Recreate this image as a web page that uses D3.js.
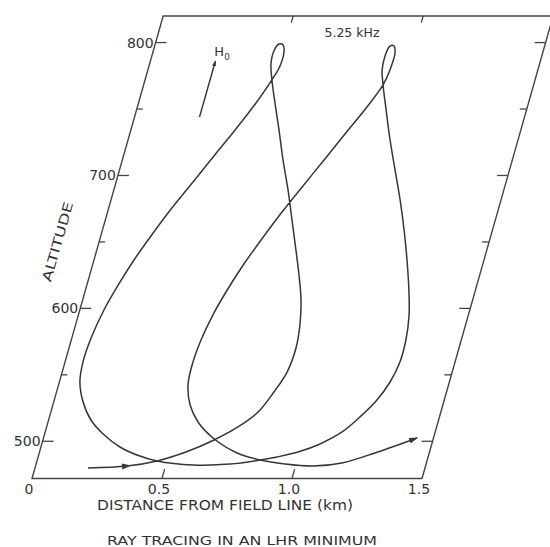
<!DOCTYPE html>
<html><head><meta charset="utf-8">
<script src="https://cdn.jsdelivr.net/npm/d3@7/dist/d3.min.js"></script>
<style>html,body{margin:0;padding:0;background:#fff;overflow:hidden}</style>
</head><body>
<svg id="chart" width="550" height="547"></svg>
<script>
// ---- data (distance from field line in km, altitude in km) ----
const rayDistance = [0.204,0.352,0.462,0.563,0.658,0.736,0.797,0.836,0.865,0.873,0.863,0.840,0.805,0.766,0.718,0.670,0.618,0.570,0.525,0.488,
  0.467,0.464,0.476,0.493,0.504,0.504,0.488,
  0.452,0.401,0.348,0.296,0.243,0.193,0.154,0.122,0.093,0.074,0.069,0.079,0.113,0.163,0.225,0.304,0.378,0.462,
  0.605,0.746,0.857,
  0.919,0.994,1.070,1.142,1.194,1.239,1.272,1.288,1.287,1.272,1.244,1.204,1.160,1.112,1.060,1.008,0.960,0.921,
  0.901,0.897,0.905,0.921,0.932,0.931,0.921,
  0.881,0.828,0.776,0.723,0.671,0.621,0.581,0.549,0.519,0.499,0.492,0.498,0.528,0.577,0.652,0.761,0.857,
  0.957,1.067,1.175,1.291,1.437];
const rayAltitude = [479.9,481.4,485.2,491.9,501.0,510.8,522.0,537.1,552.1,570.2,587.5,606.3,625.1,643.9,666.5,689.1,711.7,734.2,754.5,771.9,
  783.9,793.7,798.9,798.2,792.9,782.4,771.9,
  754.5,734.2,714.7,695.1,675.5,654.5,636.4,618.4,598.8,577.7,559.7,544.6,529.6,516.0,505.5,495.7,489.7,485.2,
  482.2,482.9,485.9,
  488.2,491.9,498.0,507.0,518.3,530.3,544.6,559.7,576.2,595.0,613.8,636.4,659.0,681.6,704.1,726.7,749.3,768.1,
  779.4,789.9,797.4,797.4,792.2,779.4,768.1,
  750.8,731.2,711.7,692.1,672.5,651.5,633.4,616.1,596.5,576.2,557.4,542.4,527.3,514.5,502.5,491.2,485.9,
  482.9,481.4,483.7,491.2,502.5];
const altMajorTicks = [500, 600, 700, 800];
const altMinorTicks = [550, 650, 750];
const altTickLabels = ["500", "600", "700", "800"];
const distTicks = [0, 0.5, 1.0, 1.5];
const distInnerTicks = [0.5, 1.0];
const distTickLabels = ["0", "0.5", "1.0", "1.5"];
const fieldArrowDistance = [0.25, 0.25];
const fieldArrowAltitude = [744, 786];
const frequencyLabel = "5.25 kHz";
const xTitle = "DISTANCE FROM FIELD LINE (km)";
const yTitle = "ALTITUDE";
const caption = "RAY TRACING IN AN LHR MINIMUM";

// ---- scales ----
const distDomain = [0, 1.5], altDomain = [472, 820];
const x = d3.scaleLinear().domain(distDomain).range([32, 422]);
const y = d3.scaleLinear().domain(altDomain).range([478.5, 16]);
const skew = 0.2836; // frame is sheared along the field-line direction
const P = (d, h) => [x(d) + skew * (y(altDomain[0]) - y(h)), y(h)];

const svg = d3.select("#chart");
const ink = "#363636";
const font = "'DejaVu Sans', sans-serif";

const defs = svg.append("defs");
defs.append("marker").attr("id", "arr").attr("markerUnits", "userSpaceOnUse")
  .attr("markerWidth", 12).attr("markerHeight", 10).attr("refX", 8).attr("refY", 5)
  .attr("orient", "auto")
  .append("path").attr("d", "M0,2 L9,5 L0,8 Z").attr("fill", ink);
defs.append("marker").attr("id", "arrS").attr("markerUnits", "userSpaceOnUse")
  .attr("markerWidth", 8).attr("markerHeight", 8).attr("refX", 5).attr("refY", 4)
  .attr("orient", "auto")
  .append("path").attr("d", "M0,2 L6,4 L0,6 Z").attr("fill", ink);

// ---- frame ----
const corners = [[distDomain[0], altDomain[0]], [distDomain[1], altDomain[0]], [distDomain[1], altDomain[1]], [distDomain[0], altDomain[1]]];
svg.append("path")
  .attr("d", d3.line()(corners.map(c => P(c[0], c[1]))) + "Z")
  .attr("fill", "none").attr("stroke", "#444").attr("stroke-width", 1.4);

// left axis ticks
altMajorTicks.forEach((h, i) => {
  const [ax, ay] = P(distDomain[0], h);
  svg.append("line").attr("x1", ax).attr("y1", ay).attr("x2", ax + 11).attr("y2", ay)
    .attr("stroke", "#444").attr("stroke-width", 1.3);
  svg.append("text").attr("x", ax - 2).attr("y", ay + 1).attr("text-anchor", "end")
    .attr("dominant-baseline", "middle").attr("font-family", font).attr("font-size", 14)
    .attr("fill", "#333").text(altTickLabels[i]);
});
altMinorTicks.forEach(h => {
  const [ax, ay] = P(distDomain[0], h);
  svg.append("line").attr("x1", ax).attr("y1", ay).attr("x2", ax + 6).attr("y2", ay)
    .attr("stroke", "#444").attr("stroke-width", 1.3);
});
// right axis ticks
altMajorTicks.concat(altMinorTicks).forEach(h => {
  const [ax, ay] = P(distDomain[1], h);
  const len = altMajorTicks.includes(h) ? 11 : 7;
  svg.append("line").attr("x1", ax).attr("y1", ay).attr("x2", ax - len).attr("y2", ay)
    .attr("stroke", "#444").attr("stroke-width", 1.3);
});
// bottom and top ticks
distInnerTicks.forEach(d => {
  const b0 = P(d, altDomain[0]), b1 = P(d, altDomain[0] + 7);
  svg.append("line").attr("x1", b0[0]).attr("y1", b0[1]).attr("x2", b1[0]).attr("y2", b1[1])
    .attr("stroke", "#444").attr("stroke-width", 1.3);
  const t0 = P(d, altDomain[1]), t1 = P(d, altDomain[1] - 5);
  svg.append("line").attr("x1", t0[0]).attr("y1", t0[1]).attr("x2", t1[0]).attr("y2", t1[1])
    .attr("stroke", "#444").attr("stroke-width", 1.3);
});
distTicks.forEach((d, i) => {
  const [bx, by] = P(d, altDomain[0]);
  svg.append("text").attr("x", bx - 3).attr("y", by + 15).attr("text-anchor", "middle")
    .attr("font-family", font).attr("font-size", 14).attr("fill", "#333").text(distTickLabels[i]);
});

// ---- ray path ----
const pts = rayDistance.map((d, i) => P(d, rayAltitude[i]));
svg.append("path")
  .attr("d", d3.line().curve(d3.curveCatmullRom.alpha(0.5))(pts))
  .attr("fill", "none").attr("stroke", ink).attr("stroke-width", 1.5)
  .attr("marker-end", "url(#arr)");
// direction arrow near the start
{
  const a = pts[0], b = pts[1], c = pts[2];
  const ang = Math.atan2(c[1] - a[1], c[0] - a[0]) * 180 / Math.PI;
  svg.append("path").attr("d", "M-5,-3 L4,0 L-5,3 Z").attr("fill", ink)
    .attr("transform", `translate(${b[0]},${b[1]}) rotate(${ang})`);
}

// ---- field direction arrow H0 ----
const fa = fieldArrowDistance.map((d, i) => P(d, fieldArrowAltitude[i]));
svg.append("line").attr("x1", fa[0][0]).attr("y1", fa[0][1]).attr("x2", fa[1][0]).attr("y2", fa[1][1])
  .attr("stroke", ink).attr("stroke-width", 1.4).attr("marker-end", "url(#arrS)");
const h0 = svg.append("text").attr("x", fa[1][0] - 1).attr("y", fa[1][1] - 5)
  .attr("font-family", font).attr("font-size", 13).attr("fill", "#333");
h0.append("tspan").text("H");
h0.append("tspan").attr("font-size", 9).attr("dy", 4).text("0");

// ---- titles ----
svg.append("text").attr("x", 352).attr("y", 37).attr("text-anchor", "middle")
  .attr("font-family", font).attr("font-size", 12.5).attr("fill", "#333").text(frequencyLabel);
svg.append("text").attr("x", 225).attr("y", 510).attr("text-anchor", "middle")
  .attr("font-family", font).attr("font-size", 13.5).attr("fill", "#333")
  .attr("textLength", 256).attr("lengthAdjust", "spacingAndGlyphs").text(xTitle);
svg.append("text").attr("x", 242).attr("y", 545).attr("text-anchor", "middle")
  .attr("font-family", font).attr("font-size", 13).attr("fill", "#333")
  .attr("textLength", 270).attr("lengthAdjust", "spacingAndGlyphs").text(caption);
svg.append("text").attr("transform", "translate(62,243) rotate(-74)").attr("text-anchor", "middle")
  .attr("font-family", font).attr("font-size", 13).attr("fill", "#333")
  .attr("textLength", 82).attr("lengthAdjust", "spacingAndGlyphs").text(yTitle);
</script>
</body></html>
